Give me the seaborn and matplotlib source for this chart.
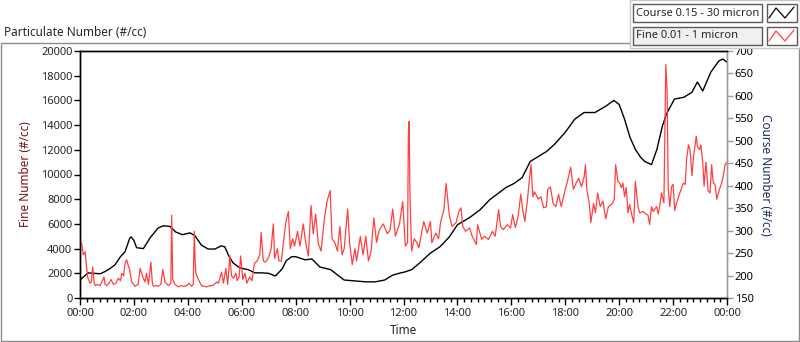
import matplotlib
matplotlib.use("Agg")
import matplotlib.pyplot as plt
from matplotlib.patches import Rectangle
from matplotlib.lines import Line2D
from matplotlib.ticker import MultipleLocator, FuncFormatter
import numpy as np
import pandas as pd
import seaborn as sns

# Время в часах от полуночи
course_t = [0.0, 0.3, 0.5, 0.75, 0.9, 1.1, 1.3, 1.5, 1.67, 1.85, 1.9, 2.0, 2.1, 2.35, 2.6,
            2.9, 3.1, 3.35, 3.55, 3.8, 4.08, 4.26, 4.5, 4.75, 5.0, 5.24, 5.37, 5.5, 5.68,
            5.93, 6.24, 6.49, 6.74, 6.99, 7.25, 7.5, 7.65, 7.85, 8.0, 8.35, 8.6, 8.9, 9.3,
            9.45, 9.8, 10.2, 10.6, 10.95, 11.3, 11.6, 11.9, 12.05, 12.3, 12.6, 13.0, 13.35,
            13.7, 14.0, 14.45, 14.85, 15.2, 15.6, 15.8, 16.1, 16.4, 16.7, 17.0, 17.3, 17.6,
            18.0, 18.35, 18.7, 19.1, 19.5, 19.8, 20.0, 20.2, 20.4, 20.6, 20.8, 20.95, 21.2,
            21.4, 21.6, 21.75, 22.05, 22.4, 22.7, 22.9, 23.1, 23.4, 23.7, 23.85, 24.0]
course_v = [190, 206, 205, 204, 208, 215, 224, 242, 253, 284, 286, 278, 262, 260, 284,
            306, 311, 309, 297, 291, 295, 289, 268, 259, 259, 266, 264, 246, 228,
            217, 213, 206, 206, 205, 199, 215, 233, 242, 242, 235, 237, 219, 213,
            206, 190, 188, 186, 186, 190, 201, 206, 208, 213, 228, 250, 264,
            286, 313, 329, 347, 369, 387, 396, 405, 418, 454, 465, 476, 492,
            519, 548, 563, 563, 577, 590, 581, 548, 508, 481, 463, 454, 447,
            481, 532, 559, 593, 597, 608, 631, 611, 653, 678, 682, 675]

fine_t = [0.0, 0.06, 0.12, 0.19, 0.28, 0.37, 0.42, 0.47, 0.52, 0.56, 0.65, 0.74, 0.89, 0.93,
          0.99, 1.08, 1.15, 1.24, 1.33, 1.42, 1.5, 1.55, 1.62, 1.67, 1.73, 1.78, 1.83, 1.92,
          2.04, 2.16, 2.23, 2.33, 2.41, 2.47, 2.54, 2.63, 2.68, 2.72, 2.8, 2.9, 3.0, 3.07,
          3.15, 3.28, 3.37, 3.4, 3.44, 3.52, 3.65, 3.75, 3.83, 3.96, 4.05, 4.14, 4.2, 4.24,
          4.27, 4.3, 4.39, 4.51, 4.6, 4.7, 4.8, 4.88, 4.98, 5.07, 5.13, 5.19, 5.25, 5.32,
          5.41, 5.48, 5.56, 5.62, 5.69, 5.78, 5.83, 5.9, 5.96, 6.04, 6.12, 6.19, 6.29, 6.38,
          6.47, 6.57, 6.67, 6.72, 6.8, 6.88, 7.0, 7.09, 7.17, 7.22, 7.32, 7.38, 7.47, 7.55,
          7.64, 7.73, 7.8, 7.89, 7.96, 8.07, 8.16, 8.28, 8.37, 8.47, 8.57, 8.65, 8.74, 8.84,
          8.94, 9.07, 9.16, 9.28, 9.35, 9.45, 9.55, 9.64, 9.72, 9.8, 9.93, 10.0, 10.1, 10.2,
          10.26, 10.4, 10.5, 10.6, 10.7, 10.8, 10.9, 11.0, 11.1, 11.25, 11.4, 11.5, 11.6,
          11.7, 11.85, 11.97, 12.07, 12.15, 12.18, 12.21, 12.24, 12.3, 12.4, 12.5, 12.57,
          12.65, 12.75, 12.88, 13.0, 13.05, 13.2, 13.3, 13.38, 13.5, 13.58, 13.64, 13.7,
          13.8, 13.95, 14.05, 14.13, 14.2, 14.3, 14.45, 14.55, 14.7, 14.75, 14.9, 15.0,
          15.15, 15.3, 15.4, 15.53, 15.6, 15.7, 15.85, 15.97, 16.05, 16.15, 16.25, 16.35,
          16.42, 16.5, 16.6, 16.67, 16.73, 16.8, 16.86, 17.0, 17.1, 17.2, 17.3, 17.35,
          17.45, 17.55, 17.65, 17.75, 17.85, 18.0, 18.1, 18.2, 18.3, 18.4, 18.5, 18.6,
          18.7, 18.75, 18.8, 18.9, 18.95, 19.05, 19.12, 19.2, 19.3, 19.4, 19.5, 19.6,
          19.75, 19.82, 19.87, 19.95, 20.02, 20.08, 20.14, 20.2, 20.26, 20.33, 20.39,
          20.45, 20.54, 20.6, 20.7, 20.76, 20.88, 21.0, 21.07, 21.13, 21.2, 21.26, 21.39,
          21.45, 21.5, 21.57, 21.66, 21.73, 21.78, 21.82, 21.88, 21.94, 22.0, 22.06, 22.13,
          22.25, 22.38, 22.45, 22.5, 22.57, 22.63, 22.7, 22.76, 22.86, 22.9, 22.98, 23.03,
          23.1, 23.15, 23.22, 23.3, 23.37, 23.43, 23.49, 23.56, 23.62, 23.72, 23.8, 23.86,
          23.93, 24.0]
fine_v = [4000, 4470, 3500, 3740, 1700, 1200, 1300, 2520, 1300, 1000, 1100, 1000, 1700, 1100,
          1000, 1200, 1500, 1100, 1200, 1600, 1400, 2000, 1800, 2800, 3100, 2700, 2400, 1300,
          950, 1100, 2400, 1700, 1300, 2000, 1100, 2900, 1300, 950, 1000, 950, 1100, 2300,
          1300, 1000, 1200, 6700, 1500, 1100, 900, 1000, 950, 1000, 1200, 950, 1100, 5400,
          3000, 2000, 1500, 1000, 950, 900, 1000, 1000, 1100, 1300, 1200, 1600, 2100, 1200,
          2400, 1100, 3400, 1800, 1600, 2000, 1400, 1700, 3400, 1500, 2000, 1200, 1700, 1400,
          2800, 3000, 3500, 5300, 3000, 2900, 3300, 4000, 6000, 3200, 4000, 3000, 3000, 4600,
          6200, 7000, 4000, 4800, 4200, 5400, 4200, 6000, 4500, 3400, 7500, 5200, 6800, 4400,
          3800, 6500, 7800, 8700, 4800, 4500, 3800, 5800, 3500, 4000, 7200, 4500, 2700, 4000,
          3000, 5000, 3500, 5000, 3000, 3800, 6500, 4500, 5500, 6000, 5200, 5500, 7200,
          5000, 6000, 7800, 4200, 4500, 13000, 14300, 8200, 3800, 4800, 4470, 4060,
          5000, 6200, 5260, 6200, 4470, 5260, 4800, 6200, 7150, 9270, 7950, 6700,
          5800, 6100, 7000, 7300, 5800, 5400, 5670, 5000, 4330, 5940, 4740, 5000,
          4740, 5400, 5000, 7150, 5800, 5530, 5940, 5670, 6750, 5700, 6600, 8400,
          7150, 6200, 8000, 9600, 10800, 8200, 8600, 8000, 8200, 7300, 7400, 8800,
          9000, 7650, 7400, 8400, 7400, 8800, 9600, 10600, 8800, 9300, 9700, 9000,
          9800, 10800, 8800, 7500, 6100, 7650, 6900, 8500, 7400, 7850, 6400, 7400,
          7650, 8000, 10800, 9450, 9300, 8940, 9300, 8200, 8940, 6900, 7560,
          6900, 6100, 9450, 7400, 6900, 7000, 6800, 6700, 5950, 7400, 7000, 7400,
          6800, 7400, 8500, 7700, 18900, 16700, 8800, 7400, 9000, 9200, 7100, 7700,
          8500, 9300, 9200, 11200, 12400, 12000, 9900, 11500, 13100, 12300, 12000, 12400,
          11000, 9050, 11000, 8700, 8500, 10800, 9300, 9200, 8000, 8800, 9300, 9900,
          10800, 11000]

course = pd.DataFrame({"t": course_t, "v": course_v})
fine = pd.DataFrame({"t": fine_t, "v": fine_v})

sns.set_style("white")
plt.rcParams["font.family"] = ["Noto Sans", "DejaVu Sans"]

W, H = 800, 342
fig = plt.figure(figsize=(W / 100, H / 100), dpi=100)


def fx(x):
    return x / W


def fy(y):
    return 1 - y / H


# рамка вокруг графика
fig.add_artist(Rectangle((fx(0.5), fy(341)), fx(798.5), (341 - 43) / H, transform=fig.transFigure,
                         fill=False, edgecolor="#8c8c8c", lw=1))

ax = fig.add_axes([fx(80), fy(298), fx(647), 247 / H])
ax2 = ax.twinx()
ax.set_zorder(ax2.get_zorder() + 1)
ax.patch.set_visible(False)

sns.lineplot(data=course, x="t", y="v", ax=ax2, color="black", lw=1.0, estimator=None)
sns.lineplot(data=fine, x="t", y="v", ax=ax, color="#ff4040", lw=0.9, estimator=None)

ax.set_xlim(0, 24)
ax.set_ylim(0, 20000)
ax2.set_ylim(150, 700)
ax.yaxis.set_major_locator(MultipleLocator(2000))
ax2.yaxis.set_major_locator(MultipleLocator(50))
ax.xaxis.set_major_locator(MultipleLocator(2))
ax.xaxis.set_minor_locator(MultipleLocator(0.25))
ax.xaxis.set_major_formatter(FuncFormatter(lambda h, p: "%02d:00" % (int(round(h)) % 24)))

for a in (ax, ax2):
    for s in a.spines.values():
        s.set_linewidth(1)
    a.spines["left"].set_color("black")
    a.spines["bottom"].set_color("black")
    a.spines["top"].set_color("black")
    a.spines["right"].set_color("#9a9a9a")

ax.tick_params(axis="y", direction="out", length=4, width=1, color="black", labelsize=8,
               pad=1.5, left=True)
ax.tick_params(axis="x", which="major", direction="out", length=5, width=1, color="black",
               labelsize=8, pad=2, bottom=True)
ax.tick_params(axis="x", which="minor", direction="out", length=3, width=1, color="black",
               bottom=True)
ax2.tick_params(axis="y", direction="out", length=4, width=1, color="#9a9a9a", labelsize=8,
                pad=1.5, right=True, labelcolor="black")

ax.set_xlabel("Time", fontsize=8.5, va="center")
ax.xaxis.set_label_coords((403 - 80) / 647, (298 - 330) / 247)
ax.set_ylabel("Fine Number (#/cc)", fontsize=8.5, color="#7a1010")
ax.yaxis.set_label_coords((32 - 80) / 647, 0.5)
ax2.set_ylabel("Course Number (#/cc)", fontsize=8.5, color="#1c2c5c", rotation=270, va="center")
ax2.yaxis.set_label_coords((765 - 80) / 647, 0.5)

fig.text(fx(4), fy(32), "Particulate Number (#/cc)", fontsize=8.5, va="center", ha="left")

# легенда в стиле LabVIEW
fig.add_artist(Rectangle((fx(630), fy(48)), fx(170), 48 / H, transform=fig.transFigure,
                         facecolor="white", edgecolor="#c8c8c8", lw=1))
names = ["Course 0.15 - 30 micron", "Fine 0.01 - 1 micron"]
colors = ["black", "#ff4040"]
fills = ["white", "#f0f0f0"]
for i, (name, c, f) in enumerate(zip(names, colors, fills)):
    top = 4 + 23 * i
    fig.add_artist(Rectangle((fx(633), fy(top + 18)), fx(129), 18 / H, transform=fig.transFigure,
                             facecolor=f, edgecolor="#5a5a5a", lw=1))
    fig.text(fx(636), fy(top + 9), name, fontsize=8, va="center", ha="left")
    fig.add_artist(Rectangle((fx(767), fy(top + 18)), fx(30), 18 / H, transform=fig.transFigure,
                             facecolor="white", edgecolor="#5a5a5a", lw=1))
    xs = [769, 776, 785, 794]
    ys = [top + 14, top + 4, top + 14, top + 3]
    fig.add_artist(Line2D([fx(v) for v in xs], [fy(v) for v in ys], transform=fig.transFigure,
                          color=c, lw=0.9))

fig.savefig("out.png", dpi=100)
